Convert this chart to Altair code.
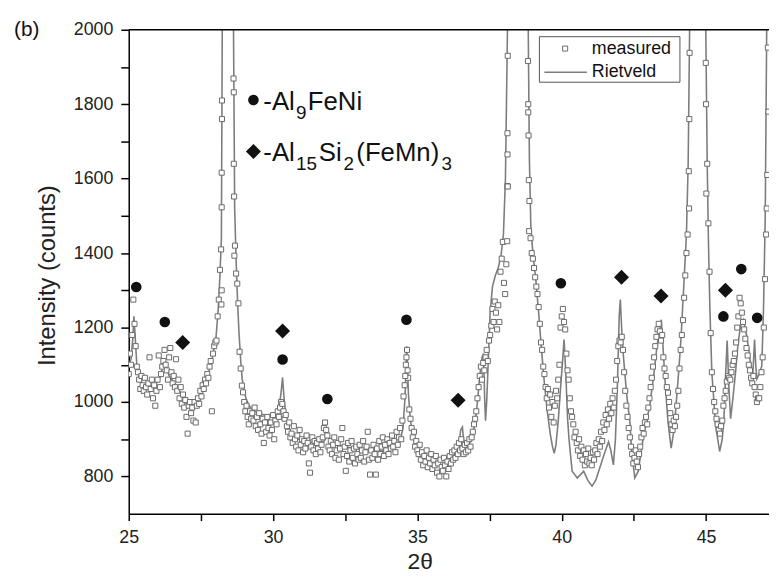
import altair as alt
import pandas as pd

# ---------------- data ----------------
# measured pattern: 2theta grid start/step, intensities (None = off scale)
meas_start = 25.0
meas_step = 0.04
meas_y = [
    1075, 1130, 1100, 1180, 1275, 1210, 1150, 1095, 1080, 1060, 1035, 1070, 1045, 1030, 1065, 1040, 1020, 1050, 1120, 1035, 1060, 1010, 1045, 990, 1030,
    1060, 1125, 1040, 1075, 1095, 1110, 1140, 1100, 1085, 1060, 1120, 1145, 1080, 1050, 1070, 1040, 1115, 1030, 1060, 1010, 1040, 995, 1020, 985, 1005,
    960, 915, 990, 1000, 970, 985, 950, 1000, 945, 990, 1010, 995, 1030, 1015, 1045, 1035, 1060, 1050, 1075, 1065, 1095, 1110, 975, 1130, 1150,
    1160, 1165, 1230, 1275, 1355, 1410, None, None, None, None, None, None, None, None, None, None, 1640, 1420, 1345, 1318, 1265, 1135, 1090, 1044, 1026,
    1000, 975, 990, 960, 940, 975, 955, 970, 950, 985, 935, 960, 925, 970, 940, 915, 955, 890, 945, 920, 960, 930, 910, 945, 925,
    965, 900, 950, 940, 975, 960, 985, 1000, 995, 975, 955, 965, 935, 920, 945, 905, 915, 890, 935, 900, 880, 910, 870, 925, 885,
    900, 865, 895, 875, 910, 890, 835, 810, 880, 905, 870, 895, 860, 890, 875, 900, 865, 885, 905, 930, 945, 925, 910, 880, 870,
    895, 860, 885, 905, 850, 870, 890, 845, 875, 900, 930, 860, 880, 815, 855, 890, 840, 870, 895, 850, 875, 835, 880, 860, 845,
    885, 850, 870, 895, 840, 865, 880, 920, 845, 805, 870, 850, 885, 860, 805, 875, 845, 895, 860, 880, 905, 855, 885, 870, 900,
    860, 890, 875, 910, 880, 895, 865, 920, 885, 905, 930, 900, 950, 1015, 1045, 1100, 1140, 1065, 980, 955, 930, 905, 920, 880, 895,
    870, 860, 885, 845, 865, 830, 855, 840, 870, 825, 850, 835, 860, 820, 845, 830, 855, 810, 835, 800, 845, 825, 815, 850, 830,
    800, 840, 820, 855, 835, 865, 845, 870, 850, 880, 860, 890, 870, 900, 875, 860, 885, 865, 890, 870, 900, 880, 905, 920, 940,
    955, 975, 1010, 1040, 1070, 1095, 1060, 1105, 1085, 1120, 1140, 1110, 1165, 1180, 1205, 1250, 1215, 1270, 1240, 1195, 1260, 1215, 1350, 1385, 1430,
    1320, 1290, 1370, 1580, None, None, None, None, None, None, None, None, None, None, None, None, None, None, None, None, None, 1800, 1540, 1440, 1400,
    1385, 1360, 1335, 1310, 1290, 1255, 1210, 1160, 1140, 1095, 1075, 1040, 1010, 1035, 985, 1020, 960, 1000, 945, 990, 1030, 1010, 1060, 1100, 1200,
    1230, 1250, 1215, 1195, 1130, 1085, 1060, 1010, 975, 960, 940, 905, 920, 890, 870, 900, 855, 880, 845, 870, 830, 860, 840, 875, 835,
    850, 830, 865, 845, 870, 890, 860, 900, 880, 920, 895, 945, 925, 965, 940, 980, 955, 995, 970, 1010, 985, 1030, 1060, 1110, 1150,
    1165, 1160, 1175, 1140, 1080, 1030, 990, 960, 930, 905, 880, 860, 835, 850, 870, 840, 825, 860, 880, 905, 930, 915, 945, 960, 940,
    985, 1010, 1040, 1065, 1095, 1120, 1150, 1175, 1195, 1210, 1190, 1165, 1180, 1120, 1090, 1070, 1040, 1025, 1000, 970, 940, 925, 950, 935, 960,
    990, 1030, 1090, 1140, 1180, 1220, 1280, 1340, 1400, 1450, 1620, None, None, None, None, None, None, None, None, None, None, None, None, None, None,
    1800, 1640, 1480, 1350, 1185, 1080, 1035, 1000, 975, 955, 940, 925, 915, 935, 950, 990, 1010, 1030, 1055, 1070, 1065, 1060, 1080, 1100, 1110,
    1130, 1160, 1200, 1230, 1280, 1265, 1240, 1215, 1195, 1170, 1145, 1125, 1100, 1085, 1065, 1050, 1070, 1040, 1020, 1000, 1010, 1010, 1040, 1080, 1120,
    1200, 1330, 1450, 1610, 1780,
]
# extra measured points on the steep peak flanks
extra_x = [28.21, 28.22, 28.22, 28.22, 28.23, 28.23, 28.63, 28.64, 28.65, 28.66,
           34.58, 34.62, 34.66,
           38.11, 38.12, 38.12, 38.13, 38.13, 38.83, 38.84, 38.85, 38.86, 38.87,
           44.41, 44.42, 44.43, 44.99, 45.01, 47.10, 47.14]
extra_y = [1262, 1300, 1523, 1616, 1760, 1810, 1869, 1832, 1552, 1393,
           1070, 1120, 1085,
           1432, 1665, 1722, 1579, 1930, 1916, 1778, 1716, 1596, 1459,
           1520, 1760, 1938, 1911, 1560, 1520, 1952]

# Rietveld fit curve
riet_x = [25.00, 25.08, 25.14, 25.18, 25.22, 25.28, 25.36, 25.50, 25.70, 25.90, 26.05, 26.15, 26.23, 26.30, 26.40,
          26.55, 26.70, 26.85, 27.00, 27.15, 27.30, 27.45, 27.60, 27.75, 27.90, 28.02, 28.10, 28.16, 28.21, 28.24,
          28.43, 28.63, 28.67, 28.72, 28.77, 28.82, 28.88, 28.93, 29.00, 29.08, 29.16, 29.30, 29.50, 29.70, 29.90,
          30.10, 30.20, 30.27, 30.33, 30.38, 30.45, 30.55, 30.65, 30.80, 31.00, 31.20, 31.50, 31.75, 31.85, 31.92,
          32.00, 32.20, 32.50, 32.80, 33.10, 33.40, 33.74, 34.00, 34.25, 34.40, 34.50, 34.57, 34.63, 34.69, 34.76,
          34.85, 34.94, 35.10, 35.28, 35.50, 35.85, 36.10, 36.30, 36.43, 36.50, 36.56, 36.62, 36.75, 36.90, 37.00,
          37.08, 37.16, 37.24, 37.29, 37.33, 37.36, 37.40, 37.46, 37.52, 37.60, 37.70, 37.80, 37.90, 37.98, 38.05,
          38.12, 38.47, 38.84, 38.88, 38.93, 39.00, 39.10, 39.20, 39.30, 39.40, 39.50, 39.60, 39.68, 39.74, 39.80,
          39.88, 39.96, 40.02, 40.08, 40.14, 40.20, 40.25, 40.36, 40.54, 40.65, 40.76, 40.90, 41.05, 41.18, 41.28,
          41.45, 41.62, 41.70, 41.79, 41.86, 41.93, 41.99, 42.03, 42.08, 42.14, 42.25, 42.36, 42.42, 42.53, 42.65,
          42.82, 43.05, 43.20, 43.30, 43.40, 43.45, 43.50, 43.56, 43.68, 43.79, 43.90, 43.96, 44.05, 44.13, 44.25,
          44.32, 44.38, 44.43, 44.70, 44.99, 45.04, 45.08, 45.13, 45.20, 45.33, 45.47, 45.56, 45.62, 45.67, 45.73,
          45.79, 45.85, 45.93, 46.02, 46.10, 46.19, 46.30, 46.40, 46.48, 46.56, 46.61, 46.65, 46.68, 46.72, 46.76,
          46.84, 46.93, 46.99, 47.05, 47.10, 47.30]
riet_y = [1100, 1115, 1170, 1230, 1180, 1100, 1065, 1045, 1040, 1045, 1060, 1085, 1110, 1090, 1070,
          1055, 1040, 1015, 995, 985, 990, 1010, 1040, 1075, 1120, 1170, 1250, 1340, 1440, 2000,
          7000, 2000, 1520, 1380, 1270, 1186, 1110, 1062, 1030, 1005, 991, 978, 970, 965, 965,
          970, 985, 1020, 1066, 1010, 960, 930, 911, 902, 897, 893, 890, 893, 905, 910,
          893, 885, 880, 876, 872, 870, 868, 872, 880, 895, 930, 1010, 1150, 1020, 950,
          905, 876, 855, 840, 835, 831, 838, 855, 875, 925, 933, 880, 880, 905, 945,
          1000, 1070, 1120, 1130, 1010, 950, 1000, 1120, 1240, 1310, 1340, 1360, 1395, 1450, 1600,
          2000, 7000, 2000, 1650, 1470, 1400, 1330, 1240, 1140, 1050, 975, 915, 880, 862, 885,
          950, 1040, 1100, 1168, 1079, 960, 902, 814, 796, 805, 814, 790, 774, 790, 814,
          855, 893, 870, 831, 900, 1050, 1230, 1275, 1190, 1120, 1020, 947, 870, 796, 814,
          902, 991, 1080, 1150, 1200, 1221, 1160, 1079, 947, 876, 930, 991, 1080, 1168, 1345,
          1450, 1640, 2000, 8000, 2000, 1640, 1440, 1256, 1079, 938, 867, 900, 955, 1060, 1165,
          1040, 955, 1010, 1079, 1150, 1203, 1221, 1180, 1141, 1090, 1062, 1120, 1168, 1100, 1062,
          1075, 1097, 1250, 1500, 2000, 8000]

# phase markers
alfeni_x = [25.26, 26.25, 30.33, 31.88, 34.62, 39.97, 45.60, 46.22, 46.77]
alfeni_y = [1309, 1215, 1114, 1008, 1221, 1319, 1230, 1357, 1226]
alsi_x = [26.87, 30.33, 36.41, 42.07, 43.44, 45.67]
alsi_y = [1160, 1191, 1005, 1335, 1285, 1300]

x_ticks = [25, 27.5, 30, 32.5, 35, 37.5, 40, 42.5, 45]
y_ticks = [800, 900, 1000, 1100, 1200, 1300, 1400, 1500, 1600, 1700, 1800, 1900, 2000]

# ---------------- build ----------------
FONT = "Liberation Sans"
W, H = 647, 489

meas_x = [round(meas_start + i * meas_step, 2) for i in range(len(meas_y))]
meas = pd.DataFrame({"x": meas_x + extra_x, "y": meas_y + extra_y}).dropna()
riet = pd.DataFrame({"x": riet_x, "y": riet_y})
m1 = pd.DataFrame({"x": alfeni_x, "y": alfeni_y})
m2 = pd.DataFrame({"x": alsi_x, "y": alsi_y})
one = pd.DataFrame({"a": [0]})

xaxis = alt.Axis(values=x_ticks, labelExpr="datum.value % 5 == 0 ? format(datum.value, 'd') : ''",
                 title="2θ", titleFontSize=23, titleFont=FONT, titleFontWeight="normal", titleColor="#222",
                 titleX=294, titleY=48, titleBaseline="middle", titleAlign="center",
                 labelFont=FONT, labelFontSize=18, labelColor="#222", labelPadding=8,
                 labelFlush=False, labelOverlap=False,
                 tickColor="black", tickSize=7, tickWidth=1.5, domainColor="black", domainWidth=1.5, grid=False)
yaxis = alt.Axis(values=y_ticks, labelExpr="datum.value % 200 == 0 ? format(datum.value, 'd') : ''",
                 title="Intensity (counts)", titleFontSize=24, titleFont=FONT, titleFontWeight="normal",
                 titleColor="#222", titleAngle=-90, titleX=-82, titleY=248, titleAlign="center",
                 titleBaseline="middle",
                 labelFont=FONT, labelFontSize=18, labelColor="#222", labelPadding=8,
                 labelFlush=False, labelOverlap=False,
                 tickColor="black", tickSize=8, tickWidth=1.5, domainColor="black", domainWidth=1.5, grid=False)
X = alt.X("x:Q", scale=alt.Scale(domain=[25, 47.18], nice=False, zero=False), axis=xaxis)
Y = alt.Y("y:Q", scale=alt.Scale(domain=[700, 2000], nice=False, zero=False), axis=yaxis)

line = alt.Chart(riet).mark_line(color="#7d7d7d", strokeWidth=1.6, clip=True).encode(x=X, y=Y)
pts = alt.Chart(meas).mark_point(shape="square", size=26, filled=True, fill="white", stroke="#6a6a6a",
                                 strokeWidth=1, opacity=1, clip=True).encode(x=X, y=Y)
circ = alt.Chart(m1).mark_point(shape="circle", size=115, filled=True, color="#111", opacity=1).encode(x=X, y=Y)
diam = alt.Chart(m2).mark_point(shape="diamond", size=230, filled=True, color="#111", opacity=1).encode(x=X, y=Y)

top = alt.Chart(one).mark_rule(color="black", strokeWidth=1.5).encode(
    x=alt.value(0), x2=alt.value(W), y=alt.value(0))

def txt(s, x, y, size, align="left", baseline="alphabetic"):
    return alt.Chart(one).mark_text(text=s, font=FONT, fontSize=size, color="#111", align=align,
                                    baseline=baseline).encode(x=alt.value(x), y=alt.value(y))

# legend box (top right)
leg_box = alt.Chart(one).mark_rect(fill="white", stroke="#555", strokeWidth=1).encode(
    x=alt.value(415), x2=alt.value(557), y=alt.value(7), y2=alt.value(53))
leg_sq = alt.Chart(one).mark_point(shape="square", size=26, filled=True, fill="white", stroke="#6a6a6a",
                                   strokeWidth=1, opacity=1).encode(x=alt.value(441), y=alt.value(19))
leg_ln = alt.Chart(one).mark_rule(color="#7d7d7d", strokeWidth=1.6).encode(
    x=alt.value(420), x2=alt.value(463), y=alt.value(43))
leg_t1 = txt("measured", 468, 19, 18, baseline="middle")
leg_t2 = txt("Rietveld", 468, 43, 18, baseline="middle")

# phase key
key_c = alt.Chart(one).mark_point(shape="circle", size=115, filled=True, color="#111", opacity=1).encode(
    x=alt.value(126), y=alt.value(71))
key_d = alt.Chart(one).mark_point(shape="diamond", size=230, filled=True, color="#111", opacity=1).encode(
    x=alt.value(126), y=alt.value(123))
k1 = [txt("-Al", 136, 81, 26), txt("9", 169, 90, 19), txt("FeNi", 181, 81, 26)]
k2 = [txt("-Al", 136, 133, 26), txt("15", 169, 142, 19), txt("Si", 192, 133, 26), txt("2", 217, 142, 19),
      txt("(FeMn)", 230, 133, 26), txt("3", 316, 142, 19)]

lab_b = txt("(b)", -103, 0, 21, align="center", baseline="middle")

chart = alt.layer(line, pts, circ, diam, top, leg_box, leg_sq, leg_ln, leg_t1, leg_t2,
                  key_c, key_d, *k1, *k2, lab_b).properties(
    width=W, height=H,
    padding={"left": 122, "top": 19, "right": 0, "bottom": 60},
    autosize=alt.AutoSizeParams(type="none"),
    background="white",
).configure_view(stroke=None)

chart.save("out.html", embed_options={"renderer": "svg", "actions": False})
